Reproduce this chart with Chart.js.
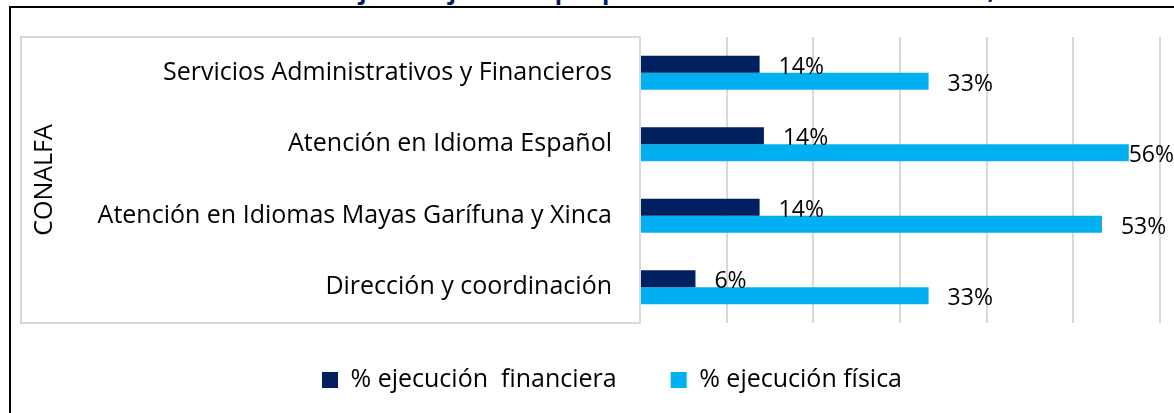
<!DOCTYPE html>
<html lang="es">
<head>
<meta charset="utf-8">
<script src="https://cdn.jsdelivr.net/npm/chart.js@4.4.0/dist/chart.umd.min.js"></script>
<style>
  html, body { margin: 0; padding: 0; background: #fff; overflow: hidden; }
  #wrap { position: relative; width: 1174px; height: 413px; overflow: hidden; }
  #frame { position: absolute; left: 9px; top: 6px; width: 1200px; height: 420px; border-left: 2px solid #000; border-top: 2px solid #000; }
  #title { position: absolute; left: 0; right: 0; top: -27px; text-align: center; font: bold 24px "Open Sans", sans-serif; color: #002060; white-space: nowrap; }
  #chart { position: absolute; left: 0; top: 0; }
</style>
</head>
<body>
<div id="wrap">
  <div id="title">Gráfica 11. Porcentajes de ejecución por productos asociados a CONALFA, 2023</div>
  <div id="frame"></div>
  <canvas id="chart" width="1174" height="413"></canvas>
</div>
<script>
// Chart data
const categories = [
    'Servicios Administrativos y Financieros',
    'Atención en Idioma Español',
    'Atención en Idiomas Mayas Garífuna y Xinca',
    'Dirección y coordinación'
];
const groupLabel = 'CONALFA';
const seriesNames = ['% ejecución  financiera', '% ejecución física'];
const financiera = [0.138, 0.143, 0.138, 0.064];
const fisica = [0.333, 0.564, 0.533, 0.333];
const axisMax = 0.6;
const axisStep = 0.1;

Chart.defaults.font.family = '"Open Sans", sans-serif';
Chart.defaults.color = '#000';

// Light grey box round the category labels
const labelBox = {
    id: 'labelBox',
    beforeDraw(chart) {
        const { ctx, chartArea } = chart;
        ctx.save();
        ctx.strokeStyle = '#d9d9d9';
        ctx.lineWidth = 2;
        ctx.strokeRect(21, chartArea.top, chartArea.left - 21, chartArea.bottom - chartArea.top);
        ctx.restore();
    }
};

// Percent labels at the end of each bar
const valueLabels = {
    id: 'valueLabels',
    afterDatasetsDraw(chart) {
        const ctx = chart.ctx;
        ctx.save();
        ctx.font = '23px "Open Sans", sans-serif';
        ctx.fillStyle = '#000';
        ctx.textBaseline = 'middle';
        chart.data.datasets.forEach((ds, i) => {
            chart.getDatasetMeta(i).data.forEach((bar, j) => {
                const txt = Math.round(ds.data[j] * 100) + '%';
                const w = ctx.measureText(txt).width;
                const x = Math.min(bar.x + 19, chart.width - w);
                ctx.fillText(txt, x, bar.y + 3);
            });
        });
        ctx.restore();
    }
};

// Move the legend row up and right
const legendSpot = {
    id: 'legendSpot',
    afterLayout(chart) {
        const lg = chart.legend;
        lg.top -= 10.5;
        lg.bottom -= 10.5;
        lg.left += 32;
        lg.right += 32;
    }
};

const ctx = document.getElementById('chart').getContext('2d');
const chart = new Chart(ctx, {
    type: 'bar',
    data: {
        labels: categories,
        datasets: [{
            label: seriesNames[0],
            data: financiera,
            backgroundColor: '#002060',
            barPercentage: 1,
            categoryPercentage: 0.476
        }, {
            label: seriesNames[1],
            data: fisica,
            backgroundColor: '#00b0f0',
            barPercentage: 1,
            categoryPercentage: 0.476
        }]
    },
    options: {
        indexAxis: 'y',
        responsive: false,
        animation: false,
        layout: {
            padding: { top: 37, left: 0, right: 14, bottom: 0 }
        },
        plugins: {
            legend: {
                position: 'bottom',
                labels: {
                    boxWidth: 16,
                    boxHeight: 16,
                    padding: 54,
                    color: '#000',
                    font: { size: 25 }
                }
            },
            tooltip: { enabled: false }
        },
        scales: {
            x: {
                min: 0,
                max: axisMax,
                ticks: { display: false, stepSize: axisStep },
                grid: { color: '#d9d9d9', lineWidth: 2, drawTicks: false },
                border: { display: false },
                afterFit(scale) { scale.height = 1; }
            },
            y: {
                grid: { display: false, drawTicks: false },
                border: { display: false },
                ticks: { color: '#000', font: { size: 25 }, padding: 28 },
                title: {
                    display: true,
                    text: groupLabel,
                    color: '#000',
                    font: { size: 25 },
                    padding: { top: 30, bottom: 0 }
                },
                afterFit(scale) {
                    scale.width = 640;
                    scale.paddingTop = 0;
                    scale.paddingBottom = 0;
                }
            }
        }
    },
    plugins: [labelBox, valueLabels, legendSpot]
});
</script>
</body>
</html>
